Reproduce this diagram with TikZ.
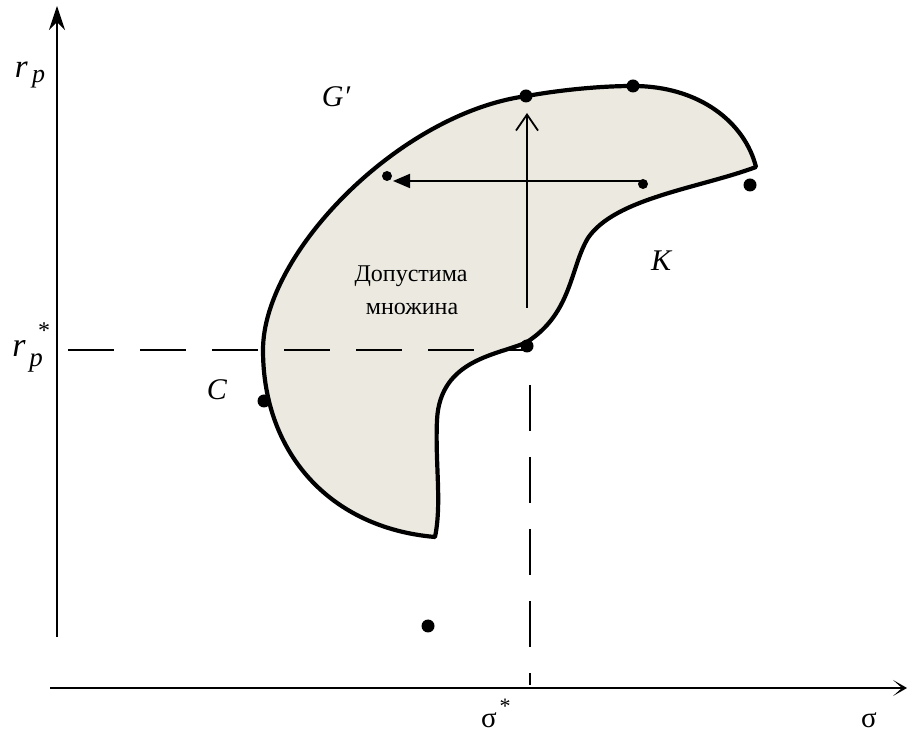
\documentclass[tikz,border=0pt]{standalone}
\usepackage{fontspec}
\setmainfont{Liberation Serif}
\usetikzlibrary{arrows.meta}
\definecolor{setfill}{RGB}{236,234,224}
\tikzset{
  axisline/.style={line width=1.8pt},
  outline/.style={line width=4.2pt, line join=round, fill=setfill},
  inner/.style={line width=1.8pt},
  bigdot/.style={circle, fill=black, inner sep=0pt, minimum size=13pt},
  smalldot/.style={circle, fill=black, inner sep=0pt, minimum size=10pt},
  guide/.style={line width=1.6pt, dash pattern=on 46pt off 26pt},
  lbl/.style={inner sep=0pt, font=\fontsize{30}{30}\selectfont\itshape},
  txtline/.style={inner sep=0pt, anchor=base, font=\fontsize{24}{24}\selectfont},
}
\begin{document}
\begin{tikzpicture}[x=1pt,y=1pt]
\useasboundingbox (0,0) rectangle (909,733);
% axes
\coordinate (yb) at (57,96);
\coordinate (yt) at (57,727);
\coordinate (xb) at (50,45);
\coordinate (xt) at (907,45);
\draw[axisline,-{Stealth[length=24pt,width=16pt]}] (yb) -- (yt);
\draw[axisline,-{Stealth[length=14pt,width=16pt,inset=9pt]}] (xb) -- (xt);
% region
\draw[outline] (435,196) .. controls (330,205) and (263,280) .. (263,383)
  .. controls (263,480) and (400,620) .. (527,637)
  .. controls (560,643) and (600,647) .. (633,647)
  .. controls (700,647) and (745,610) .. (756,566)
  .. controls (700,545) and (615,535) .. (588,495)
  .. controls (570,465) and (572,420) .. (527,391)
  .. controls (500,378) and (440,375) .. (437,313)
  .. controls (435,270) and (442,230) .. (435,196) -- cycle;
% guides
\coordinate (hg1) at (68,383);
\coordinate (hg2) at (527,383);
\coordinate (vg1) at (530,348);
\coordinate (vg2) at (530,48);
\draw[guide] (hg1) -- (hg2);
\draw[guide] (vg1) -- (vg2);
% dots
\node[bigdot] (top) at (526,637) {};
\node[bigdot] (topr) at (633,647) {};
\node[bigdot] (right) at (750,548) {};
\node[bigdot] (opt) at (527,387) {};
\node[bigdot] (c) at (264,332) {};
\node[bigdot] (low) at (428,107) {};
\node[smalldot] (hs) at (643,549) {};
\node[smalldot] (he) at (387,557) {};
% inner arrows
\coordinate (ha) at (643,552);
\coordinate (hb) at (393,552);
\draw[inner,-{Triangle[length=17pt,width=14pt]}] (ha) -- (hb);
\coordinate (va) at (527,425);
\coordinate (vb) at (527,620);
\draw[inner,-{Straight Barb[length=16pt,width=22pt]}] (va) -- (vb);
% labels
\node[lbl] (rp) at (30,658) {\fontsize{33}{33}\selectfont r\raisebox{-5pt}{\fontsize{26}{26}\selectfont\,p}};
\node[inner sep=0pt, anchor=base, font=\fontsize{34}{34}\selectfont\itshape] (rs) at (19,376) {r};
\node[inner sep=0pt, anchor=base, font=\fontsize{27}{27}\selectfont\itshape] (ps) at (36,366) {p};
\node[inner sep=0pt, anchor=base, font=\fontsize{24}{24}\selectfont] (st) at (44,394) {*};
\node[lbl] (g) at (336,636) {G′};
\node[lbl] (cl) at (217,343) {C};
\node[lbl] (k) at (661,472) {K};
\node[txtline] (t1) at (411,451) {Допустима};
\node[txtline] (t2) at (412,418) {множина};
\node[inner sep=0pt, anchor=base, font=\fontsize{29}{29}\selectfont] (ss) at (489,6) {σ};
\node[inner sep=0pt, anchor=base, font=\fontsize{22}{22}\selectfont] (sst) at (505,20) {*};
\node[inner sep=0pt, anchor=base, font=\fontsize{29}{29}\selectfont] (s) at (869,6) {σ};
\end{tikzpicture}
\end{document}
